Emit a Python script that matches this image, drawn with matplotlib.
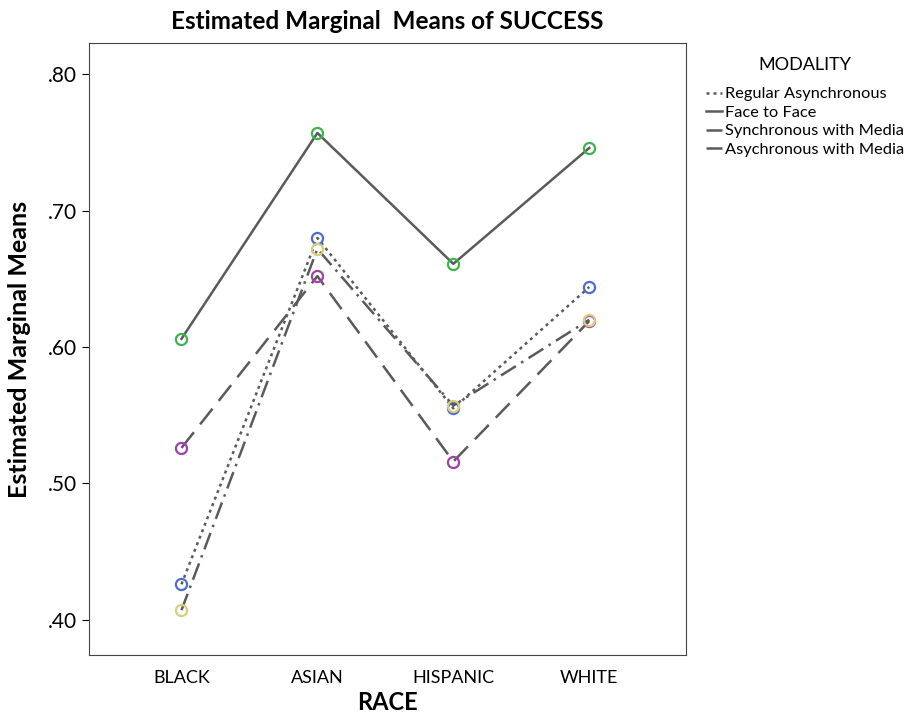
import matplotlib.pyplot as plt
from matplotlib.ticker import FuncFormatter

plt.rcParams["font.family"] = ["Lato", "DejaVu Sans"]

# Estimated marginal means
races = ["BLACK", "ASIAN", "HISPANIC", "WHITE"]
regular_async = [0.426, 0.680, 0.555, 0.644]
face_to_face = [0.606, 0.757, 0.661, 0.746]
sync_media = [0.526, 0.652, 0.516, 0.619]
async_media = [0.407, 0.672, 0.557, 0.620]

series = [
    ("Regular Asynchronous", regular_async, (0, (1.2, 1.6)), "#4a6fd0"),
    ("Face to Face", face_to_face, "-", "#3cb44b"),
    ("Synchronous with Media", sync_media, (0, (8, 4)), "#a040a8"),
    ("Asychronous with Media", async_media, (0, (7, 2.5, 1, 2.5)), "#d8cc80"),
]

fig = plt.figure(figsize=(9.18, 7.16), dpi=100)
ax = fig.add_axes([0.097, 0.085, 0.65, 0.855])

x = range(len(races))
for name, vals, ls, mc in series:
    ax.plot(x, vals, color="#5a5a5a", linestyle=ls, linewidth=1.8, label=name)
    ax.plot(x, vals, linestyle="none", marker="o", markersize=8, markerfacecolor="none",
            markeredgecolor=mc, markeredgewidth=1.6)

ax.set_xlim(-0.68, 3.71)
ax.set_ylim(0.374, 0.823)
ax.set_xticks(list(x))
ax.set_xticklabels(races, fontsize=13)
ax.tick_params(axis="x", length=0, pad=11)
ax.set_yticks([0.40, 0.50, 0.60, 0.70, 0.80])
ax.yaxis.set_major_formatter(FuncFormatter(lambda v, p: f"{v:.2f}".lstrip("0")))
ax.tick_params(axis="y", labelsize=15, length=5)
for s in ax.spines.values():
    s.set_color("#444444")

ax.set_xlabel("RACE", fontsize=17, fontweight="bold", labelpad=3)
ax.set_ylabel("Estimated Marginal Means", fontsize=18, fontweight="bold", labelpad=12)
ax.set_title("Estimated Marginal  Means of SUCCESS", fontsize=17.5, fontweight="bold", pad=10)

handles, labels = ax.get_legend_handles_labels()
leg = fig.legend(handles, labels, title="MODALITY", loc="upper left",
                 bbox_to_anchor=(0.760, 0.932), frameon=False, fontsize=11.8,
                 title_fontsize=13, handlelength=1.0, handletextpad=0.15,
                 labelspacing=0.25, borderpad=0)
leg._legend_box.sep = 10

fig.savefig("out.png")
